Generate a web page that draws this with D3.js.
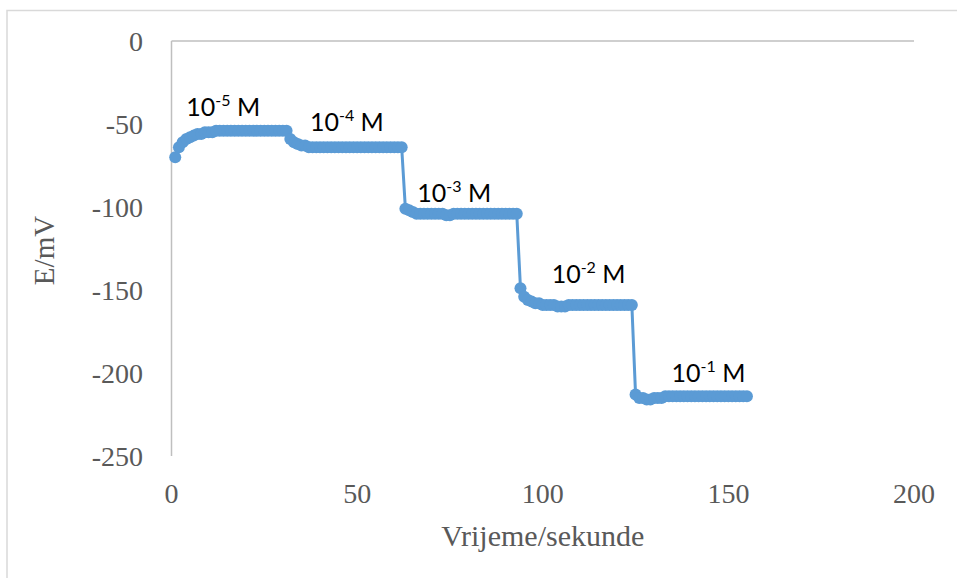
<!DOCTYPE html>
<html><head><meta charset="utf-8">
<script src="https://cdn.jsdelivr.net/npm/d3@7"></script>
<style>body{margin:0;background:#fff}svg{display:block}</style>
</head><body>
<svg id="c" width="957" height="578"></svg>
<script>
const time = [1,2,3,4,5,6,7,8,9,10,11,12,13,14,15,16,17,18,19,20,21,22,23,24,25,26,27,28,29,30,
31,32,33,34,35,36,37,38,39,40,41,42,43,44,45,46,47,48,49,50,51,52,53,54,55,56,57,58,59,60,
61,62,63,64,65,66,67,68,69,70,71,72,73,74,75,76,77,78,79,80,81,82,83,84,85,86,87,88,89,90,
91,92,93,94,95,96,97,98,99,100,101,102,103,104,105,106,107,108,109,110,111,112,113,114,115,116,117,118,119,120,
121,122,123,124,125,126,127,128,129,130,131,132,133,134,135,136,137,138,139,140,141,142,143,144,145,146,147,148,149,150,
151,152,153,154,155];
const potential = [-70,-64,-61,-59,-58,-57,-56,-56,-55,-55,-55,-54,-54,-54,-54,-54,-54,-54,-54,-54,-54,-54,-54,-54,-54,-54,-54,-54,-54,-54,
-54,-59,-61,-62,-63,-63,-64,-64,-64,-64,-64,-64,-64,-64,-64,-64,-64,-64,-64,-64,-64,-64,-64,-64,-64,-64,-64,-64,-64,-64,
-64,-64,-101,-102,-103,-104,-104,-104,-104,-104,-104,-104,-104,-105,-105,-104,-104,-104,-104,-104,-104,-104,-104,-104,-104,-104,-104,-104,-104,-104,
-104,-104,-104,-149,-154,-156,-157,-158,-158,-159,-159,-159,-159,-160,-160,-160,-159,-159,-159,-159,-159,-159,-159,-159,-159,-159,-159,-159,-159,-159,
-159,-159,-159,-159,-213,-215,-215,-216,-216,-215,-215,-215,-214,-214,-214,-214,-214,-214,-214,-214,-214,-214,-214,-214,-214,-214,-214,-214,-214,-214,
-214,-214,-214,-214,-214];
const xTicks = [0,50,100,150,200];
const yTicks = [0,-50,-100,-150,-200,-250];
const labelTime = [4,37.3,66.2,102.4,134.7];
const labelValue = [-45,-54.5,-96.8,-146,-205.2];
const labelExp = ["-5","-4","-3","-2","-1"];
const xTitle = "Vrijeme/sekunde";
const yTitle = "E/mV";

const svg = d3.select("#c");
const x = d3.scaleLinear().domain([0,200]).range([171.5,914]);
const y = d3.scaleLinear().domain([0,-250]).range([41,456]);
const serif = "'Liberation Serif','Times New Roman',serif";
const grey = "#595959";

svg.append("rect").attr("x",7).attr("y",10.5).attr("width",970).attr("height",600)
  .attr("fill","#fff").attr("stroke","#d9d9d9").attr("stroke-width",1.5);

// axis lines
svg.append("line").attr("x1",x(0)).attr("x2",x(200)).attr("y1",y(0)).attr("y2",y(0))
  .attr("stroke","#bfbfbf").attr("stroke-width",1.5);
svg.append("line").attr("x1",x(0)).attr("x2",x(0)).attr("y1",y(0)).attr("y2",y(-250))
  .attr("stroke","#bfbfbf").attr("stroke-width",1.5);

// tick labels
svg.append("g").selectAll("text").data(yTicks).join("text")
  .attr("x",143).attr("y",d=>y(d)).attr("dy","0.35em").attr("text-anchor","end")
  .attr("font-family",serif).attr("font-size",28).attr("fill",grey).text(d=>d);
svg.append("g").selectAll("text").data(xTicks).join("text")
  .attr("x",d=>x(d)).attr("y",503).attr("text-anchor","middle")
  .attr("font-family",serif).attr("font-size",28).attr("fill",grey).text(d=>d);

svg.append("text").attr("x",(x(0)+x(200))/2).attr("y",546).attr("text-anchor","middle")
  .attr("font-family",serif).attr("font-size",30).attr("fill",grey).text(xTitle);
svg.append("text").attr("transform",`translate(44,${(y(0)+y(-250))/2+2}) rotate(-90)`)
  .attr("text-anchor","middle").attr("dy","0.35em")
  .attr("font-family",serif).attr("font-size",29).attr("fill",grey).text(yTitle);

const data = time.map((t,i)=>({t, v: potential[i]}));
const blue = "#5B9BD5";
svg.append("path").datum(data).attr("fill","none").attr("stroke",blue).attr("stroke-width",3)
  .attr("d", d3.line().x(d=>x(d.t)).y(d=>y(d.v)));
svg.append("g").selectAll("circle").data(data).join("circle")
  .attr("cx",d=>x(d.t)).attr("cy",d=>y(d.v)).attr("r",6).attr("fill",blue);

// annotations
const sans = "Lato,'Open Sans',Carlito,Calibri,sans-serif";
labelTime.forEach((t,i)=>{
  const tx = svg.append("text").attr("x",x(t)).attr("y",y(labelValue[i]))
    .attr("font-family",sans).attr("font-size",25).attr("fill","#000");
  tx.append("tspan").text("10");
  tx.append("tspan").attr("font-size",16).attr("dy",-10).text(labelExp[i]);
  tx.append("tspan").attr("dy",10).text(" M");
});
</script>
</body></html>
